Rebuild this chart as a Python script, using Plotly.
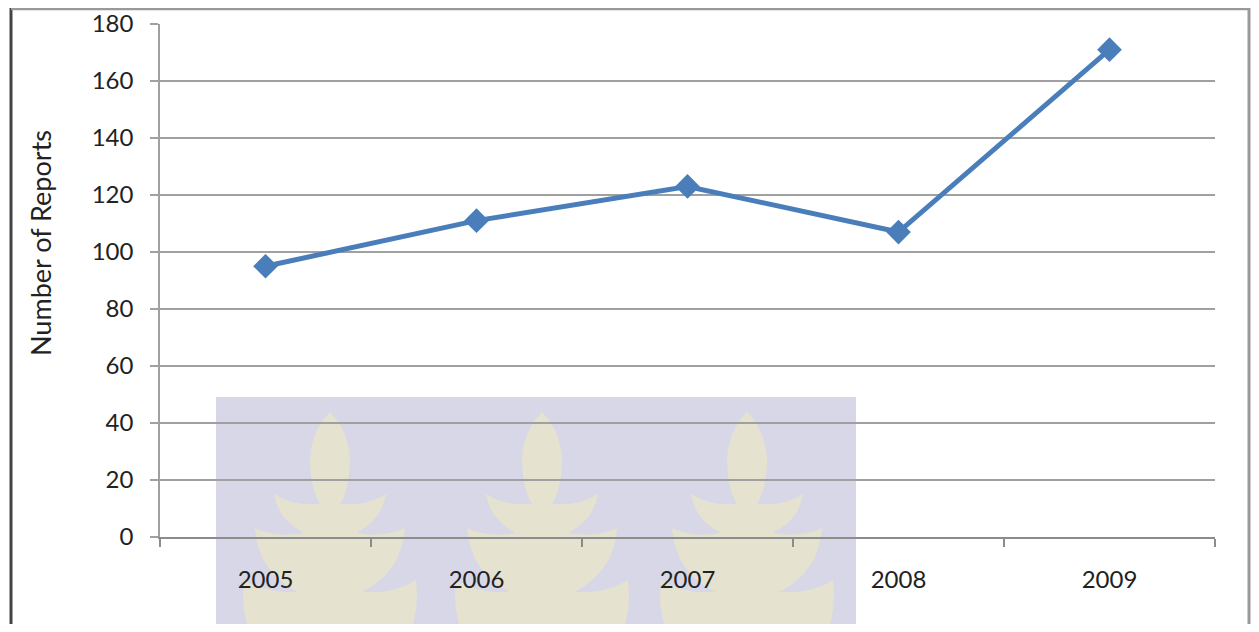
import plotly.graph_objects as go

years = ["2005", "2006", "2007", "2008", "2009"]
reports = [95, 111, 123, 107, 171]
y_ticks = [0, 20, 40, 60, 80, 100, 120, 140, 160, 180]
y_title = "Number of Reports"

# page has an 8px body margin, so the figure is drawn starting at (8, 8);
# keep the document inside the 1259x632 window (no scrollbars)
OFF = 8
W, H = 1259 - 2 * OFF, 632 - 2 * OFF
L, T = 160 - OFF, 24 - OFF
R = W - (1215 - OFF)
B = H - (537 - OFF)
PW, PH = W - L - R, H - T - B


def px(x):
    return (x - OFF - L) / PW


def py(y):
    return (H - B - (y - OFF)) / PH


def P(cx, ty, dx, dy):
    return f"{px(cx + dx):.5f},{py(ty + dy):.5f}"


def tree_path(cx, ty):
    # (control, end) quadratic segments for the right-hand outline, starting at the tip
    segs = [((18, 18), (20, 46)), ((20, 76), (10, 92)),
            ((38, 94), (56, 82)), ((52, 108), (26, 121)),
            ((55, 126), (75, 116)), ((72, 160), (32, 180)),
            ((64, 182), (86, 168)), ((90, 200), (76, 232))]
    d = "M " + P(cx, ty, 0, 0)
    for c, e in segs:
        d += f" Q {P(cx, ty, *c)} {P(cx, ty, *e)}"
    d += " L " + P(cx, ty, -76, 232)
    starts = [(0, 0)] + [e for _, e in segs[:-1]]
    for (c, e), s in zip(reversed(segs), reversed(starts)):
        d += f" Q {P(cx, ty, -c[0], c[1])} {P(cx, ty, -s[0], s[1])}"
    return d + " Z"


shapes = [
    dict(type="rect", xref="paper", yref="paper", x0=px(216), x1=px(856),
         y0=py(397), y1=py(640), fillcolor="#d7d7e7", line=dict(width=0), layer="below"),
]
for cx in (330, 542, 747):
    shapes.append(dict(type="path", xref="paper", yref="paper", path=tree_path(cx, 412),
                       fillcolor="#e6e2d0", line=dict(width=0), layer="below"))
# outer frame
shapes += [
    dict(type="line", xref="paper", yref="paper", x0=px(11), x1=px(11), y0=py(8), y1=py(640),
         line=dict(color="#444444", width=3)),
    dict(type="line", xref="paper", yref="paper", x0=px(11), x1=px(1250), y0=py(9), y1=py(9),
         line=dict(color="#999999", width=2.5)),
    dict(type="line", xref="paper", yref="paper", x0=px(1249), x1=px(1249), y0=py(8), y1=py(640),
         line=dict(color="#999999", width=3)),
]

fig = go.Figure(go.Scatter(
    x=years, y=reports, mode="lines+markers",
    line=dict(color="#4a7ebb", width=5),
    marker=dict(symbol="diamond", size=19, color="#4a7ebb"),
    cliponaxis=False,
))

fam = "Lato, Carlito, 'Open Sans', sans-serif"
font = dict(family=fam, size=24, color="#222222")

fig.add_annotation(
    text=y_title, xref="paper", yref="paper", x=px(40), y=py(243),
    textangle=-90, showarrow=False, xanchor="center", yanchor="middle",
    font=dict(family=fam, size=27, color="#222222"),
)

fig.update_layout(
    width=W, height=H,
    margin=dict(l=L, r=R, t=T, b=B, autoexpand=False),
    paper_bgcolor="white",
    plot_bgcolor="rgba(0,0,0,0)",
    showlegend=False,
    font=font,
    shapes=shapes,
    xaxis=dict(
        type="category", range=[-0.5, 4.5], tickson="boundaries", automargin=False,
        ticks="outside", ticklen=8, tickcolor="#8c8c8c", tickwidth=1.5,
        showline=True, linecolor="#8c8c8c", linewidth=1.5,
        showgrid=False, ticklabelstandoff=20,
        tickfont=font,
    ),
    yaxis=dict(
        range=[0, 180], tickvals=y_ticks, automargin=False,
        ticks="outside", ticklen=8, tickcolor="#a0a0a0", tickwidth=1.5,
        showline=True, linecolor="#a0a0a0", linewidth=1.5,
        showgrid=True, gridcolor="#a0a0a0", gridwidth=1.5,
        zeroline=False, ticklabelstandoff=12,
        tickfont=font,
    ),
)

fig.write_html("out.html")
